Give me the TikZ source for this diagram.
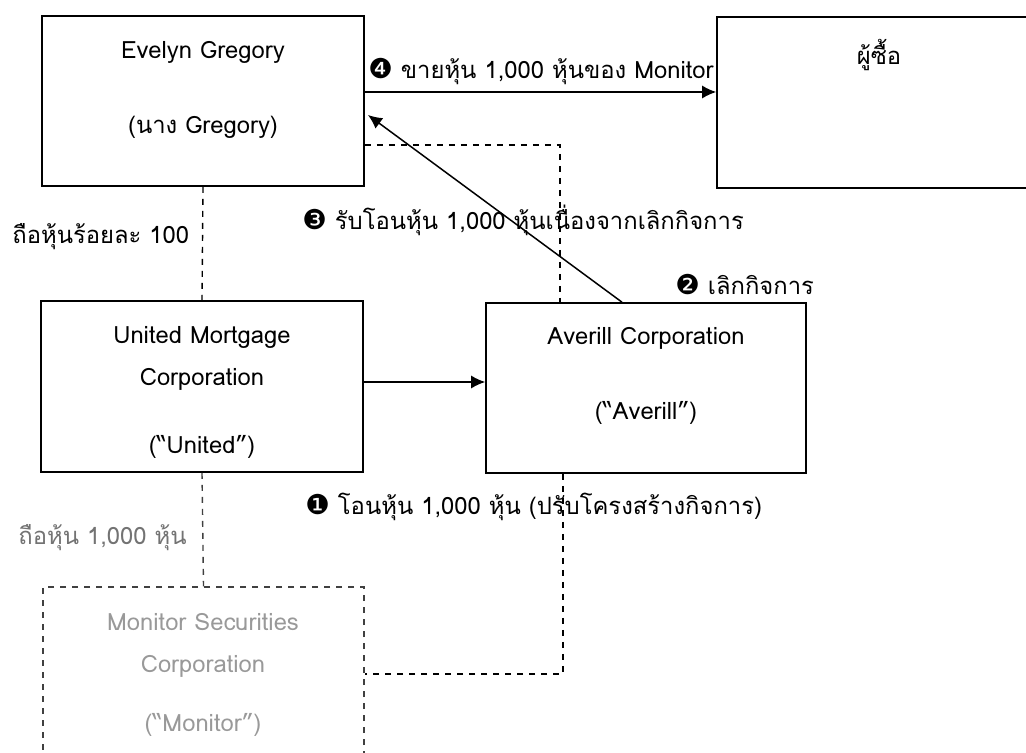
\documentclass[tikz,border=0pt]{standalone}
\usepackage{fontspec}
\setmainfont[Script=Thai]{Loma}
\newfontfamily\dingfont[Scale=1.15]{DejaVu Sans}
\usetikzlibrary{arrows.meta}
\newcommand{\stepno}[1]{{\dingfont #1}}
\tikzset{
  box/.style={draw, line width=0.8pt, inner sep=0pt},
  txt/.style={font=\fontsize{11.9}{14}\selectfont, inner sep=0pt},
  link/.style={dash pattern=on 3pt off 3pt, line width=0.7pt},
  flow/.style={-{Latex[length=7pt,width=6.5pt]}, line width=0.75pt},
}
\begin{document}
\begin{tikzpicture}[x=0.5pt,y=-0.5pt]
  \useasboundingbox (0,0) rectangle (1026,753);

  % boxes
  \node[box, minimum width=161pt, minimum height=85pt] (greg) at (203,101) {};
  \node[box, minimum width=161.5pt, minimum height=85.5pt] (buyer) at (878.5,102.5) {};
  \node[box, minimum width=161pt, minimum height=85.5pt] (united) at (202,386.5) {};
  \node[box, minimum width=160pt, minimum height=85pt] (averill) at (646,388) {};
  \node[box, draw=black!75, link, minimum width=160.5pt, minimum height=116.5pt] (monitor) at (203.5,703.5) {};

  % box texts
  \node[txt] (gregname) at (203,52) {Evelyn Gregory};
  \node[txt] (gregshort) at (203,127) {(นาง Gregory)};
  \node[txt] (buyername) at (879,55) {ผู้ซื้อ};
  \node[txt] (unitedname) at (202,337) {United Mortgage};
  \node[txt] (unitedcorp) at (202,379) {Corporation};
  \node[txt] (unitedshort) at (202,447) {(“United”)};
  \node[txt] (averillname) at (646,338) {Averill Corporation};
  \node[txt] (averillshort) at (646,413) {(“Averill”)};
  \node[txt, text=black!40] (monitorname) at (203,622) {Monitor Securities};
  \node[txt, text=black!40] (monitorcorp) at (203,666) {Corporation};
  \node[txt, text=black!40] (monitorshort) at (203,725) {(“Monitor”)};

  % labels
  \node[txt, anchor=west] (sell) at (368,72) {\stepno{❹} ขายหุ้น 1,000 หุ้นของ Monitor};
  \node[txt, anchor=west] (receive) at (302,220) {\stepno{❸} รับโอนหุ้น 1,000 หุ้นเนื่องจากเลิกกิจการ};
  \node[txt, anchor=west] (dissolve) at (675,285) {\stepno{❷} เลิกกิจการ};
  \node[txt, anchor=west] (transfer) at (305,507) {\stepno{❶} โอนหุ้น 1,000 หุ้น (ปรับโครงสร้างกิจการ)};
  \node[txt, anchor=west] (ownall) at (12,237) {ถือหุ้นร้อยละ 100};
  \node[txt, anchor=west, text=black!55] (ownpart) at (18,538) {ถือหุ้น 1,000 หุ้น};

  % ownership
  \draw[link] (greg.south) -- (united.north);
  \draw[link, draw=black!75] (united.south) -- (monitor.north);
  \draw[link] (greg.east |- 0,145) -| (averill.north -| 560,0);
  \draw[link] (averill.south -| 563,0) |- (monitor.east |- 0,674);

  % transfers
  \draw[flow] (greg.east |- 0,92) -- (buyer.west |- 0,92);
  \draw[flow] (averill.north -| 622,0) -- (368,115);
  \draw[flow] (united.east |- 0,382) -- (averill.west |- 0,382);
\end{tikzpicture}
\end{document}
